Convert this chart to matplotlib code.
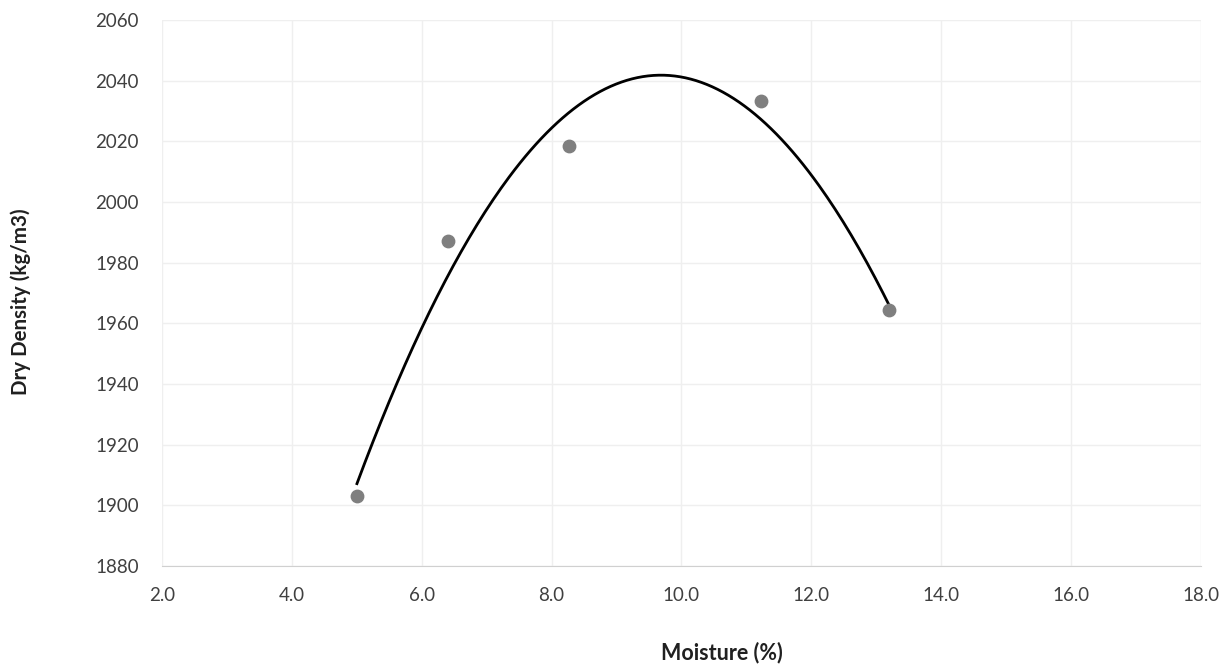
import numpy as np
import matplotlib.pyplot as plt

# compaction test points
moisture = [5.0, 6.4, 8.27, 11.22, 13.19]
dry_density = [1903, 1987, 2018.3, 2033.2, 1964.4]

x_ticks = [2.0, 4.0, 6.0, 8.0, 10.0, 12.0, 14.0, 16.0, 18.0]
y_ticks = [1880, 1900, 1920, 1940, 1960, 1980, 2000, 2020, 2040, 2060]

plt.rcParams['font.family'] = ['Lato', 'DejaVu Sans']

fig = plt.figure(figsize=(12.29, 6.65), dpi=100)
ax = fig.add_axes([0.132, 0.149, 0.845, 0.821])

# polynomial (order 2) trendline through the points
coef = np.polyfit(moisture, dry_density, 2)
xs = np.linspace(min(moisture), max(moisture), 200)
ax.plot(xs, np.polyval(coef, xs), color='black', lw=2, zorder=3)
ax.scatter(moisture, dry_density, s=80, color='#7f7f7f', zorder=4)

ax.set_xlim(2, 18)
ax.set_ylim(1880, 2060)
ax.set_xticks(x_ticks)
ax.set_xticklabels(['%.1f' % v for v in x_ticks])
ax.set_yticks(y_ticks)
ax.grid(True, color='#efefef', lw=1)
for s in ['top', 'right', 'left']:
    ax.spines[s].set_visible(False)
ax.spines['bottom'].set_color('#d0d0d0')
ax.tick_params(length=0, labelsize=13.5, colors='#404040')
ax.tick_params(axis='x', pad=15)
ax.tick_params(axis='y', pad=17)

ax.set_xlabel('Moisture (%)', fontsize=15.5, fontweight='bold', color='#202020')
ax.set_ylabel('Dry Density (kg/m3)', fontsize=14.8, fontweight='bold', color='#202020')
ax.xaxis.set_label_coords(0.5385, -0.139)
ax.yaxis.set_label_coords(-0.126, 0.4835)

plt.savefig('out.png')
